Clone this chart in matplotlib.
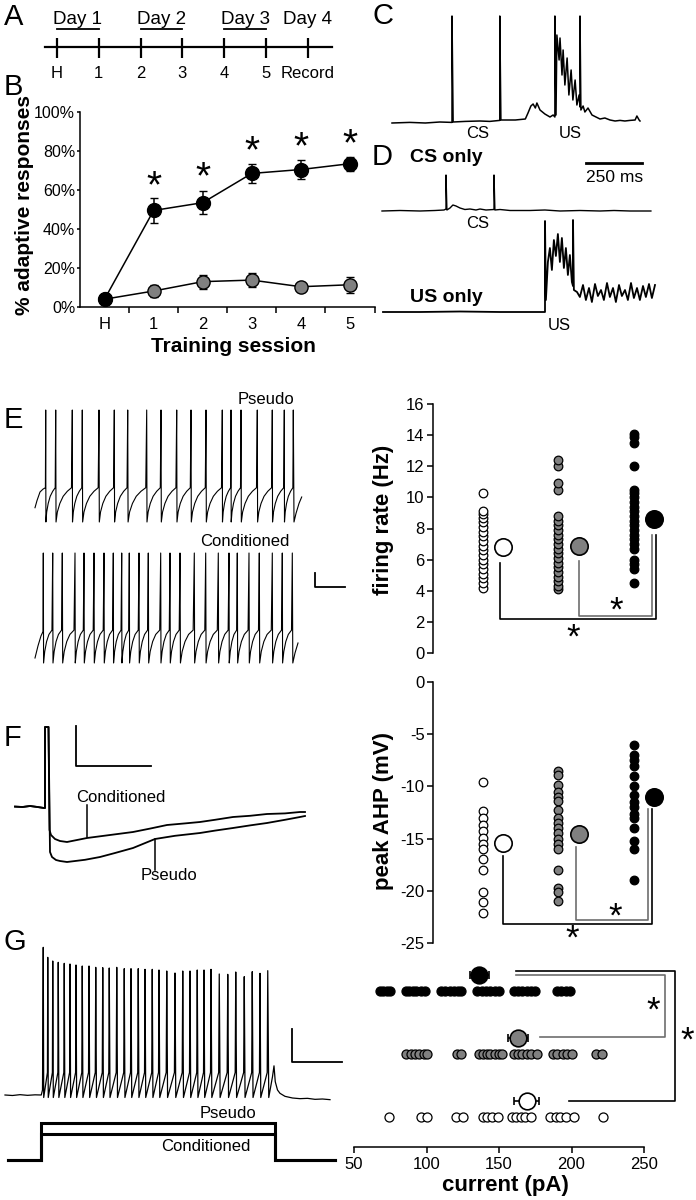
import matplotlib
matplotlib.use('Agg')
import matplotlib.pyplot as plt
import numpy as np

plt.rcParams['font.family'] = ['Liberation Sans', 'DejaVu Sans']
plt.rcParams['axes.unicode_minus'] = False

W, H = 696, 1200

# ---- A: training timeline
timeline_labels = ['H', '1', '2', '3', '4', '5', 'Record']
day_labels = ['Day 1', 'Day 2', 'Day 3', 'Day 4']
day_spans = [(0, 1), (2, 3), (4, 5), (6, 6)]

# ---- B: % adaptive responses per session
sessions = ['H', '1', '2', '3', '4', '5']
cond_pct = [4, 49.5, 53.5, 68.5, 70.5, 73.5]
cond_sem = [0, 6.5, 6, 4.8, 5, 3.5]
pseudo_pct = [4, 8.2, 13, 13.8, 10.4, 11.4]
pseudo_sem = [0, 3, 3.6, 3.6, 0, 4]
star_pct = [65, 70, 83, 85, 87]

# ---- C / D: example EMG traces (ms, a.u.)
c_trace = [(0, 0), (80, 0.3), (150, 0), (215, 0.5), (270, 0.3), (270, 53.5), (275, 0.5),
           (330, 0.8), (395, 1), (440, 0.8), (485, 1.3), (485, 53.5), (490, 1.5), (555, 1.5),
           (600, 2), (612, 5), (625, 8.5), (635, 9.5), (645, 7.5), (652, 10), (666, 6.5),
           (688, 4.5), (711, 3), (725, 4), (733, 3), (733, 53.5), (738, 4), (742, 44),
           (752, 31.5), (756, 42.5), (765, 24), (770, 36.5), (778, 19), (788, 32.5), (796, 14),
           (806, 26.5), (814, 11.5), (824, 21.5), (832, 9), (842, 14), (846, 8), (846, 53.5),
           (850, 6.5), (860, 8.5), (868, 5.5), (882, 7.5), (900, 4), (918, 3), (936, 2),
           (958, 2.5), (981, 1.5), (1004, 1), (1026, 1.3), (1048, 1), (1071, 1.3), (1094, 1.5),
           (1102, 3.5), (1112, 1.5), (1116, 1)]
cs_trace = [(0, 0), (81, 0.25), (171, 0), (238, 0.25), (279, 0.5), (288, 1), (288, 18), (292, 0.5),
            (306, 1.5), (319, 3), (333, 2.5), (351, 1.5), (373, 0.75), (396, 1), (423, 0.5),
            (441, 1), (468, 0.5), (504, 0.75), (504, 18), (508, 0.5), (531, 0.75), (576, 0.25),
            (666, 0.25), (733, 0.5), (801, 0), (891, 0.25), (981, 0), (1044, 0.25), (1116, 0),
            (1210, 0)]
us_trace = [(0, 0), (166, 0), (346, 0.25), (526, 0), (729, 0), (729, 45.5), (733, 6), (742, 25),
            (751, 32), (760, 21), (769, 36), (778, 28), (787, 39), (796, 25), (805, 37), (814, 22),
            (823, 32), (832, 18.5), (841, 28.5), (850, 15), (855, 13), (855, 46), (859, 11),
            (873, 10), (886, 7.5), (900, 13.5), (913, 6), (927, 12), (940, 5), (954, 14), (967, 8),
            (981, 11), (994, 6), (1008, 14.5), (1021, 7.5), (1035, 12), (1048, 5), (1062, 13.5),
            (1075, 8), (1089, 11), (1102, 6), (1116, 14.5), (1129, 7), (1143, 12), (1156, 6),
            (1170, 13), (1183, 7.5), (1197, 14), (1210, 7), (1224, 13.5)]

# ---- E: spontaneous firing (ms, mV)
pseudo_spikes = [107, 207, 373, 473, 640, 793, 927, 1117, 1260, 1417, 1560, 1710, 1873, 1960,
                 2060, 2223, 2373, 2493, 2583]
cond_spikes = [83, 177, 273, 400, 490, 590, 690, 783, 867, 943, 1040, 1133, 1257, 1350, 1450,
               1593, 1707, 1833, 1940, 2023, 2140, 2243, 2373, 2473, 2573]
e_pseudo_pre = [(0, -60), (20, -55), (50, -49), (80, -47), (104, -46)]
e_pseudo_post = [(2590, -70), (2610, -64), (2640, -57), (2667, -52.5)]
e_pseudo_shape = [(0.02, 0), (0.1, 7), (0.25, 13), (0.45, 18), (0.7, 21.5), (0.95, 24)]
e_cond_pre = [(0, -66.5), (30, -58), (60, -51), (80, -48)]
e_cond_post = [(2578, -70), (2600, -63), (2630, -56)]
e_cond_shape = [(0.03, 0), (0.15, 8), (0.35, 15), (0.6, 20), (0.92, 23)]

fr_naive = [4.2, 4.5, 4.8, 5.1, 5.4, 5.7, 6.0, 6.3, 6.6, 6.9, 7.2, 7.5, 7.8, 8.1, 8.4, 8.7,
            8.9, 9.1, 10.3]
fr_pseudo = [4.1, 4.3, 4.6, 4.9, 5.2, 5.5, 5.8, 6.1, 6.4, 6.7, 7.0, 7.3, 7.6, 7.9, 8.2, 8.5,
             8.8, 10.5, 10.9, 12.0, 12.4]
fr_cond = [4.5, 5.4, 5.7, 6.0, 6.7, 7.0, 7.3, 7.6, 7.9, 8.2, 8.5, 8.8, 9.1, 9.4, 9.7, 10.0,
           10.3, 10.5, 12.0, 13.5, 13.9, 14.1]
fr_means = [6.8, 6.9, 8.6]

# ---- F: AHP traces (ms, mV from baseline)
f_pre = [(0, 0.1), (15, 0), (30, 0.25), (45, 0), (58, -0.25), (60, -0.25), (60, 20), (67, 20)]
f_cond = [(69, -5.75), (72, -7), (80, -8), (90, -8.5), (104, -8.75), (144, -7.75), (190, -7),
          (236, -6.25), (270, -5.4), (304, -4.5), (340, -4.1), (370, -3.75), (400, -3.2),
          (436, -2.5), (470, -2.2), (504, -1.75), (540, -1.6), (570, -1.25), (580, -1.25)]
f_pseudo = [(70, -11.25), (74, -12.5), (82, -13.25), (90, -13.5), (104, -13.75), (140, -13.2),
            (170, -12.5), (200, -11.5), (236, -10.25), (280, -8), (320, -7.2), (370, -6.5),
            (400, -5.9), (436, -5.25), (470, -4.6), (504, -4), (540, -3.2), (570, -2.5),
            (580, -2.25)]
ahp_naive = [-9.6, -12.4, -13.0, -13.7, -14.3, -14.9, -15.5, -16.0, -17.0, -18.0, -20.1,
             -21.1, -22.1]
ahp_pseudo = [-8.5, -8.9, -9.9, -10.5, -11.0, -11.4, -12.3, -13.0, -13.5, -14.0, -14.5, -15.0,
              -15.5, -16.0, -18.0, -19.7, -20.1, -21.0]
ahp_cond = [-6.0, -7.0, -7.5, -8.0, -9.0, -10.0, -10.8, -11.5, -12.0, -12.6, -13.0, -14.0,
            -15.2, -16.0, -19.0]
ahp_means = [-15.4, -14.6, -11.0]

# ---- G: evoked firing (ms, mV) and current step (pA)
g_spikes = [153, 171, 191, 213, 237, 260, 284, 309, 336, 363, 391, 417, 447, 477, 504, 533,
            560, 589, 616, 647, 680, 711, 740, 769, 796, 824, 857, 891, 923, 957, 989, 1020, 1051]
g_peaks = [23.6, 17.6, 15.4, 14.6, 14, 13.6, 13, 12.4, 12.4, 11.6, 11.4, 11.2, 11.6, 10.8, 10.8,
           10.8, 10.4, 10.4, 10, 9.4, 8.2, 9.4, 9.4, 10, 10, 10.4, 7.6, 7.4, 8.8, 6, 9, 8, 9.6]
g_pre = [(0, -65), (30, -65.3), (60, -64.8), (90, -65.2), (120, -64.9), (145, -65), (150, -62)]
g_post = [(1055, -66.5), (1070, -54), (1076, -47.5), (1081, -57), (1090, -62), (1100, -64),
          (1120, -65.8), (1150, -66.8), (1180, -67.2), (1210, -67), (1240, -67.6), (1270, -67.4),
          (1300, -67.8)]
g_shape = [(0.1, 0), (0.93, 15)]
step_t = [12, 145, 145, 1080, 1080, 1320]
pseudo_step = [0, 0, 170, 170, 0, 0]
cond_step = [0, 0, 120, 120, 0, 0]

cur_naive = [74, 96, 100, 120, 125, 139, 142, 145, 149, 159, 162, 165, 168, 172, 185, 189, 192,
             196, 202, 222]
cur_pseudo = [86, 89, 92, 95, 98, 100, 121, 124, 136, 139, 142, 144, 147, 150, 152, 160, 163,
              166, 169, 172, 176, 187, 190, 194, 197, 200, 217, 221]
cur_cond = [68, 70, 73, 75, 86, 88, 91, 93, 96, 99, 110, 113, 116, 119, 122, 124, 135, 138,
            141, 144, 147, 150, 160, 163, 166, 169, 172, 175, 190, 193, 196, 199]
cur_means = [169, 163, 136.5]
cur_sem = [8.5, 7, 6.3]

group_colors = ['white', '#808080', 'black']

fig = plt.figure(figsize=(W / 100, H / 100), dpi=100)


def px_axes(x0, y0, x1, y1):
    ax = fig.add_axes([x0 / W, 1 - y1 / H, (x1 - x0) / W, (y1 - y0) / H])
    ax.patch.set_visible(False)
    return ax


def trace_axes(x0, y0, x1, y1, ox, oy, kx, ky, v0=0):
    ax = px_axes(x0, y0, x1, y1)
    ax.set_xlim((x0 - ox) * kx, (x1 - ox) * kx)
    ax.set_ylim(v0 + (oy - y1) * ky, v0 + (oy - y0) * ky)
    ax.axis('off')
    return ax


def fig_text(x, y, s, **kw):
    kw.setdefault('ha', 'center')
    kw.setdefault('va', 'center')
    fig.text(x / W, 1 - y / H, s, **kw)


def star(ax, x, y, fs):
    ax.annotate('*', (x, y), xytext=(0, -0.45 * fs), textcoords='offset points',
                ha='center', va='baseline', fontsize=fs, annotation_clip=False)


def xy(points):
    return [p[0] for p in points], [p[1] for p in points]


def spike_train(pre, spikes, peaks, trough, shape, post):
    t, v = xy(pre)
    for i, ts in enumerate(spikes):
        t.append(ts)
        v.append(peaks[i])
        if i + 1 < len(spikes):
            isi = spikes[i + 1] - ts
            for frac, dv in shape:
                t.append(ts + frac * isi)
                v.append(trough + dv)
    pt, pv = xy(post)
    return t + pt, v + pv


# panel letters
for letter, (lx, ly) in zip('ABCDEFG', [(14, 17), (13, 87), (383, 16), (382, 157),
                                         (13, 420), (12, 738), (15, 942)]):
    fig_text(lx, ly, letter, fontsize=21)

# ---- A
axA = px_axes(40, 7, 340, 87)
axA.set_xlim(-0.4067, 6.770)
axA.set_ylim(-1, 1)
axA.axis('off')
pos = np.arange(len(timeline_labels))
axA.plot([-0.29, 6.58], [0, 0], color='k', lw=1.6)
axA.vlines(pos, -0.275, 0.225, color='k', lw=1.6)
for p, lab in zip(pos, timeline_labels):
    axA.text(p, -0.65, lab, ha='center', va='center', fontsize=12)
for lab, (a, b) in zip(day_labels, day_spans):
    axA.text((a + b) / 2, 0.68, lab, ha='center', va='center', fontsize=13.5)
    if b > a:
        axA.plot([a, b], [0.45, 0.45], color='k', lw=1.3)

# ---- B
axB = px_axes(80, 112, 374.5, 307)
xb = np.arange(len(sessions))
axB.errorbar(xb, pseudo_pct, yerr=pseudo_sem, color='k', lw=1.1, marker='o', ms=9.5,
             mfc='#808080', mec='k', mew=1, capsize=3, elinewidth=1.1, capthick=1.1,
             clip_on=False, zorder=3)
axB.errorbar(xb, cond_pct, yerr=cond_sem, color='k', lw=1.1, marker='o', ms=10,
             mfc='k', mec='k', mew=1, capsize=3, elinewidth=1.1, capthick=1.1,
             clip_on=False, zorder=4)
for xi, s in zip(xb[1:], star_pct):
    star(axB, xi, s, 28)
axB.set_xlim(-0.5, 5.5)
axB.set_ylim(0, 100)
for side in ['top', 'right']:
    axB.spines[side].set_visible(False)
for side in ['left', 'bottom']:
    axB.spines[side].set_linewidth(1.1)
axB.set_yticks(np.arange(0, 101, 20))
axB.set_yticklabels([f'{v}%' for v in range(0, 101, 20)])
axB.set_xticks(xb)
axB.set_xticklabels(sessions)
axB.set_xticks(xb + 0.5, minor=True)
axB.tick_params(axis='x', which='major', length=0, pad=7, labelsize=12)
axB.tick_params(axis='x', which='minor', length=4, width=1.1)
axB.tick_params(axis='y', length=2.5, width=1.1, pad=1, labelsize=11.5)
fig_text(25, 205, '% adaptive responses', rotation=90, fontsize=15, fontweight='bold')
fig_text(233, 347, 'Training session', fontsize=15, fontweight='bold')

# ---- C
axC = trace_axes(380, 8, 660, 140, 392, 123, 4.5, 0.5)
axC.plot(*xy(c_trace), color='k', lw=1.1)
axC.text(387, -5, 'CS', ha='center', va='center', fontsize=12)
axC.text(801, -5, 'US', ha='center', va='center', fontsize=12)

# ---- D
axD1 = trace_axes(375, 145, 665, 230, 382, 211, 4.5, 0.5)
axD1.plot(*xy(cs_trace), color='k', lw=1.0)
axD1.text(432, -6.5, 'CS', ha='center', va='center', fontsize=12)
axD1.text(126, 26.5, 'CS only', ha='left', va='center', fontsize=14, fontweight='bold')
axD1.plot([920, 1170], [24, 24], color='k', lw=2)
axD1.text(1045, 16.5, '250 ms', ha='center', va='center', fontsize=12.5)

axD2 = trace_axes(375, 215, 665, 330, 383, 312, 4.5, 0.5)
axD2.plot(*xy(us_trace), color='k', lw=1.3)
axD2.text(121, 7.5, 'US only', ha='left', va='center', fontsize=14, fontweight='bold')
axD2.text(792, -7, 'US', ha='center', va='center', fontsize=12)

# ---- E traces
axE1 = trace_axes(30, 395, 350, 530, 35, 522, 10, 0.7, -70)
axE1.plot(*spike_train(e_pseudo_pre, pseudo_spikes, [8.4] * len(pseudo_spikes), -70,
                       e_pseudo_shape, e_pseudo_post), color='k', lw=0.8)
axE1.text(2310, 15.4, 'Pseudo', ha='center', va='center', fontsize=12)

axE2 = trace_axes(30, 540, 350, 672, 35, 663, 10, 0.7, -70)
axE2.plot(*spike_train(e_cond_pre, cond_spikes, [7] * len(cond_spikes), -70,
                       e_cond_shape, e_cond_post), color='k', lw=0.8)
axE2.text(2100, 15.4, 'Conditioned', ha='center', va='center', fontsize=12)
axE2.plot([2800, 2800, 3100], [-6.8, -16.8, -16.8], color='k', lw=1.3)

# ---- E right: firing rate
cols = np.arange(3)
axE = px_axes(433, 404, 670, 653)
for c, vals, col in zip(cols, [fr_naive, fr_pseudo, fr_cond], group_colors):
    axE.plot([c] * len(vals), vals, 'o', ms=6.2, mfc=col, mec='k', mew=0.9, clip_on=False)
    axE.plot(c + 0.27, fr_means[c], 'o', ms=12.5, mfc=col, mec='k', mew=1.2, clip_on=False)
axE.plot([0.23, 0.23, 2.29, 2.29], [5.8, 2.2, 2.2, 7.6], color='k', lw=1.2, clip_on=False)
axE.plot([1.27, 1.27, 2.24, 2.24], [5.9, 2.4, 2.4, 7.6], color='#6e6e6e', lw=1.2,
         clip_on=False)
star(axE, 1.76, 3.1, 25)
star(axE, 1.2, 1.35, 25)
axE.set_xlim(-0.662, 2.477)
axE.set_ylim(0, 16)
axE.set_yticks(np.arange(0, 17, 2))
axE.set_xticks([])
for side in ['top', 'right', 'bottom']:
    axE.spines[side].set_visible(False)
axE.spines['left'].set_linewidth(1.1)
axE.tick_params(axis='y', length=4, width=1.1, labelsize=12, pad=2)
fig_text(383, 520, 'firing rate (Hz)', rotation=90, fontsize=16, fontweight='bold')

# ---- F traces
axF1 = trace_axes(5, 715, 320, 885, 15, 807, 2, 0.25)
ft, fv = xy(f_pre)
ct, cv = xy(f_cond)
pt, pv = xy(f_pseudo)
axF1.plot(ft + ct, fv + cv, color='k', lw=1.3)
axF1.plot(ft + pt, fv + pv, color='k', lw=1.3)
axF1.plot([122, 122, 272], [20.25, 10.25, 10.25], color='k', lw=1.3)
axF1.text(212, 2.5, 'Conditioned', ha='center', va='center', fontsize=12)
axF1.plot([144, 144], [0.5, -7.6], color='k', lw=1.1)
axF1.text(308, -17.25, 'Pseudo', ha='center', va='center', fontsize=12)
axF1.plot([280, 280], [-8.1, -15.75], color='k', lw=1.1)

# ---- F right: peak AHP
axF = px_axes(433, 682, 670, 943)
for c, vals, col in zip(cols, [ahp_naive, ahp_pseudo, ahp_cond], group_colors):
    axF.plot([c] * len(vals), vals, 'o', ms=6.2, mfc=col, mec='k', mew=0.9, clip_on=False)
    axF.plot(c + 0.27, ahp_means[c], 'o', ms=12.5, mfc=col, mec='k', mew=1.2, clip_on=False)
axF.plot([0.265, 0.265, 2.24, 2.24], [-16.7, -23.2, -23.2, -12.2], color='k', lw=1.2,
         clip_on=False)
axF.plot([1.23, 1.23, 2.19, 2.19], [-15.8, -22.8, -22.8, -12.2], color='#6e6e6e', lw=1.2,
         clip_on=False)
star(axF, 1.75, -21.9, 25)
star(axF, 1.18, -24.0, 25)
axF.set_xlim(-0.662, 2.477)
axF.set_ylim(-25, 0)
axF.set_yticks(np.arange(-25, 1, 5))
axF.set_xticks([])
for side in ['top', 'right', 'bottom']:
    axF.spines[side].set_visible(False)
axF.spines['left'].set_linewidth(1.1)
axF.tick_params(axis='y', length=4, width=1.1, labelsize=12, pad=2)
fig_text(383, 811, 'peak AHP (mV)', rotation=90, fontsize=16, fontweight='bold')

# ---- G traces
axG1 = trace_axes(0, 930, 345, 1108, 5, 1095, 4, 0.6, -65)
axG1.plot(*spike_train(g_pre, g_spikes, g_peaks, -66.5, g_shape, g_post), color='k', lw=0.9)
axG1.plot([1148, 1148, 1348], [-25.2, -45.2, -45.2], color='k', lw=1.3)

axG2 = trace_axes(0, 1105, 345, 1175, 5, 1160, 4, 4.6)
axG2.plot(step_t, pseudo_step, color='k', lw=2.2, solid_joinstyle='miter')
axG2.plot(step_t, cond_step, color='k', lw=2.2, solid_joinstyle='miter')
axG2.text(892, 216, 'Pseudo', ha='center', va='center', fontsize=12)
axG2.text(804, 60, 'Conditioned', ha='center', va='center', fontsize=12)

# ---- G right: current threshold
axG = px_axes(354, 960, 644, 1147)
for r, vals, col in zip(cols, [cur_naive, cur_pseudo, cur_cond], group_colors):
    axG.plot(vals, [r] * len(vals), 'o', ms=6.5, mfc=col, mec='k', mew=0.9, clip_on=False)
    axG.errorbar(cur_means[r], r + 0.25, xerr=cur_sem[r], fmt='o', ms=12, mfc=col, mec='k',
                 mew=1.2, ecolor='k', elinewidth=1.2, capsize=3, capthick=1.2, clip_on=False)
axG.plot([162, 271.4, 271.4, 198], [2.32, 2.32, 0.25, 0.25], color='k', lw=1.2,
         clip_on=False)
axG.plot([162, 264.5, 264.5, 178], [2.25, 2.25, 1.265, 1.265], color='#6e6e6e', lw=1.2,
         clip_on=False)
star(axG, 256, 1.78, 25)
star(axG, 280, 1.3, 25)
axG.set_xlim(50, 250)
axG.set_ylim(-0.476, 2.49)
axG.set_xticks(np.arange(50, 251, 50))
axG.set_yticks([])
for side in ['top', 'right', 'left']:
    axG.spines[side].set_visible(False)
axG.spines['bottom'].set_linewidth(1.1)
axG.tick_params(axis='x', length=4, width=1.1, labelsize=12, pad=3)
fig_text(505, 1186, 'current (pA)', fontsize=16, fontweight='bold')

fig.savefig('out.png', dpi=100)
